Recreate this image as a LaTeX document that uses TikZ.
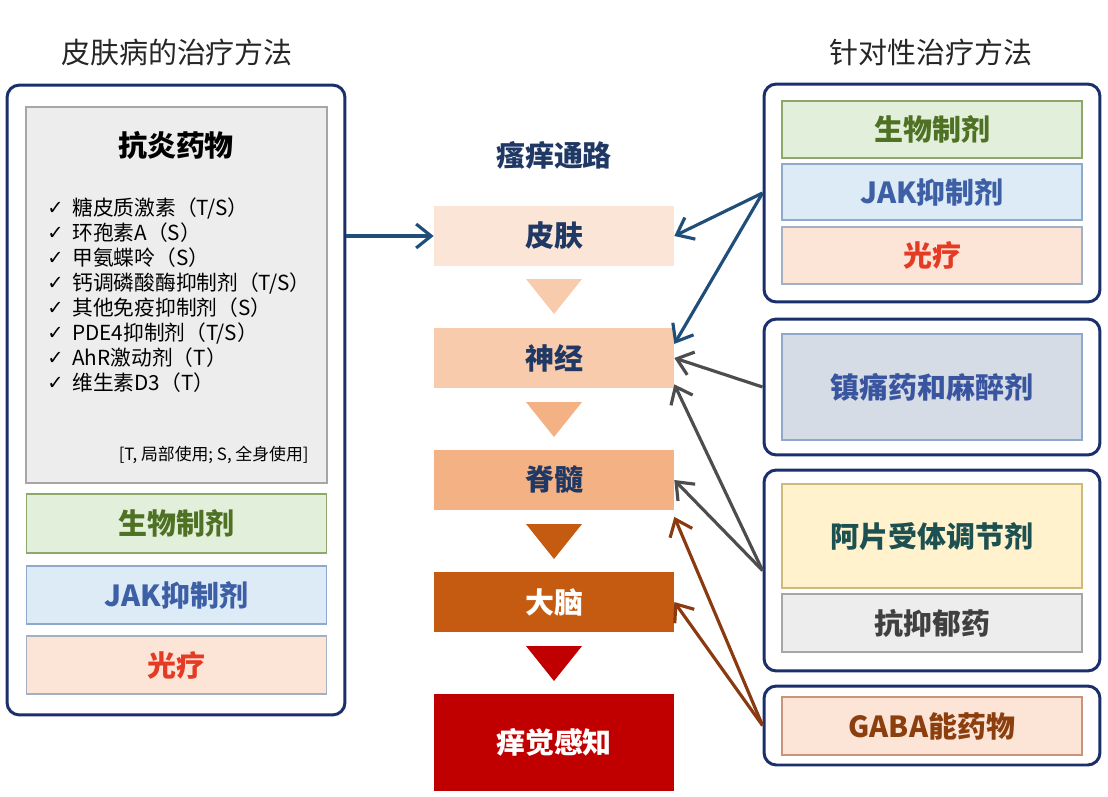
\documentclass[tikz,border=0pt]{standalone}
\usepackage{fontspec}
\setmainfont{Noto Sans CJK SC}
\newfontfamily\checkfont{DejaVu Sans}
\usetikzlibrary{arrows.meta}

\definecolor{navy}{HTML}{1F3864}
\definecolor{framenavy}{HTML}{1A2F6B}
\definecolor{titlegray}{HTML}{262626}
\definecolor{skinF}{HTML}{FBE5D6}
\definecolor{nerveF}{HTML}{F8CBAD}
\definecolor{spineF}{HTML}{F4B183}
\definecolor{brainF}{HTML}{C55A11}
\definecolor{itchF}{HTML}{C00000}
\definecolor{greenF}{HTML}{E2EFDA}
\definecolor{greenD}{HTML}{8DA86A}
\definecolor{greenT}{HTML}{4E7123}
\definecolor{blueF}{HTML}{DDEBF7}
\definecolor{blueD}{HTML}{8EA9CC}
\definecolor{blueT}{HTML}{3D5FA5}
\definecolor{pinkF}{HTML}{FCE4D6}
\definecolor{pinkD}{HTML}{A3B0C4}
\definecolor{redT}{HTML}{E53A24}
\definecolor{slateF}{HTML}{D6DCE5}
\definecolor{slateT}{HTML}{3A55A0}
\definecolor{creamF}{HTML}{FFF2CC}
\definecolor{creamD}{HTML}{CDB97A}
\definecolor{tealT}{HTML}{1D5050}
\definecolor{grayF}{HTML}{EDEDED}
\definecolor{grayD}{HTML}{A6A6A6}
\definecolor{darkT}{HTML}{404040}
\definecolor{gabaD}{HTML}{C8957A}
\definecolor{brownT}{HTML}{8B3E0E}
\definecolor{arrowblue}{HTML}{1F4E79}
\definecolor{arrowgray}{HTML}{4D4D4D}
\definecolor{arrowbrown}{HTML}{8B3A10}

\begin{document}
\begin{tikzpicture}[x=0.02cm,y=-0.02cm,
  every node/.style={inner sep=0pt},
  groupbox/.style={draw=framenavy,line width=1.7pt,rounded corners=7pt,fill=white},
  drugbox/.style={draw,line width=1pt,minimum width=6cm,
    font=\fontsize{16.5}{18}\selectfont\bfseries},
  stagebox/.style={minimum width=4.8cm,minimum height=1.2cm,
    font=\fontsize{16.5}{18}\selectfont\bfseries},
  headline/.style={text=titlegray,font=\fontsize{16.5}{18}\selectfont},
  listitem/.style={anchor=west,font=\fontsize{11.8}{14}\selectfont},
  link/.style={line width=1.8pt,-{Straight Barb[length=3mm,width=4.8mm]}}]
\useasboundingbox (0,0) rectangle (1108,797);

% headings
\node[headline] (lefthead) at (177,52) {皮肤病的治疗方法};
\node[headline] (righthead) at (931,52) {针对性治疗方法};

% left: skin disease treatments
\node[groupbox,minimum width=6.76cm,minimum height=12.6cm] (leftgrp) at (176,400) {};
\node[draw=grayD,fill=grayF,line width=1pt,minimum width=6.02cm,minimum height=7.52cm] (inflam) at (176.5,295) {};
\node[font=\fontsize{16.5}{18}\selectfont\bfseries] (inflamhead) at (176,145) {抗炎药物};
\foreach \txt [count=\i from 0] in {糖皮质激素（T/S）,环孢素A（S）,甲氨蝶呤（S）,钙调磷酸酶抑制剂（T/S）,
    其他免疫抑制剂（S）,PDE4抑制剂（T/S）,AhR激动剂（T）,维生素D3（T）}{
  \node[listitem,font=\checkfont\fontsize{11}{14}\selectfont] (check\i) at ({47},{208+25*\i}) {✓};
  \node[listitem] (item\i) at ({72},{208+25*\i}) {\txt};
}
\node[anchor=east,font=\fontsize{9.6}{11}\selectfont] (legend) at (309,455) {[T, 局部使用; S, 全身使用]};
\node[drugbox,draw=greenD,fill=greenF,text=greenT,minimum height=1.18cm] (bioL) at (176.5,523.5) {生物制剂};
\node[drugbox,draw=blueD,fill=blueF,text=blueT,minimum height=1.16cm] (jakL) at (176.5,595) {JAK抑制剂};
\node[drugbox,draw=pinkD,fill=pinkF,text=redT,minimum height=1.16cm] (lightL) at (176.5,665) {光疗};

% middle: itch pathway
\node[text=navy,font=\fontsize{16.5}{18}\selectfont\bfseries] (pathhead) at (554,155) {瘙痒通路};
\node[stagebox,fill=skinF,text=navy] (skin) at (554,236) {皮肤};
\node[stagebox,fill=nerveF,text=navy] (nerve) at (554,358) {神经};
\node[stagebox,fill=spineF,text=navy] (spine) at (554,480) {脊髓};
\node[stagebox,fill=brainF,text=white] (brain) at (554,602) {大脑};
\node[stagebox,fill=itchF,text=white,minimum height=1.94cm] (itch) at (554,742.5) {痒觉感知};
\foreach \y/\c in {279/nerveF,402/spineF,524/brainF,646/itchF}
  \fill[\c] (526,\y) -- (582,\y) -- (554,\y+35) -- cycle;

% right: targeted treatments
\node[groupbox,minimum width=6.72cm,minimum height=4.36cm] (grpA) at (932,193) {};
\node[drugbox,draw=greenD,fill=greenF,text=greenT,minimum height=1.14cm] (bioR) at (932,129.5) {生物制剂};
\node[drugbox,draw=blueD,fill=blueF,text=blueT,minimum height=1.12cm] (jakR) at (932,192) {JAK抑制剂};
\node[drugbox,draw=pinkD,fill=pinkF,text=redT,minimum height=1.14cm] (lightR) at (932,255.5) {光疗};

\node[groupbox,minimum width=6.72cm,minimum height=2.72cm] (grpB) at (932,387) {};
\node[drugbox,draw=blueD,fill=slateF,text=slateT,minimum height=2.12cm] (analg) at (932,387) {镇痛药和麻醉剂};

\node[groupbox,minimum width=6.72cm,minimum height=4.02cm] (grpC) at (932,570.5) {};
\node[drugbox,draw=creamD,fill=creamF,text=tealT,minimum height=2.08cm] (opioid) at (932,536) {阿片受体调节剂};
\node[drugbox,draw=grayD,fill=grayF,text=darkT,minimum height=1.16cm] (antidep) at (932,623) {抗抑郁药};

\node[groupbox,minimum width=6.72cm,minimum height=1.58cm] (grpD) at (932,725.5) {};
\node[drugbox,draw=gabaD,fill=pinkF,text=brownT,minimum height=1.16cm] (gaba) at (932,726) {GABA能药物};

% connectors
\draw[link,draw=arrowblue] (skin.west -| leftgrp.east) -- (skin.west);
\draw[link,draw=arrowblue] (grpA.west) -- (skin.east);
\draw[link,draw=arrowblue] (grpA.west) -- ([yshift=8pt]nerve.east);
\draw[link,draw=arrowgray] (grpB.west) -- (nerve.east);
\draw[link,draw=arrowgray] (grpC.west) -- ([yshift=-15pt]nerve.east);
\draw[link,draw=arrowgray] (grpC.west) -- (spine.east);
\draw[link,draw=arrowbrown] (grpD.west) -- ([yshift=-21pt]spine.east);
\draw[link,draw=arrowbrown] (grpD.west) -- (brain.east);
\end{tikzpicture}
\end{document}
